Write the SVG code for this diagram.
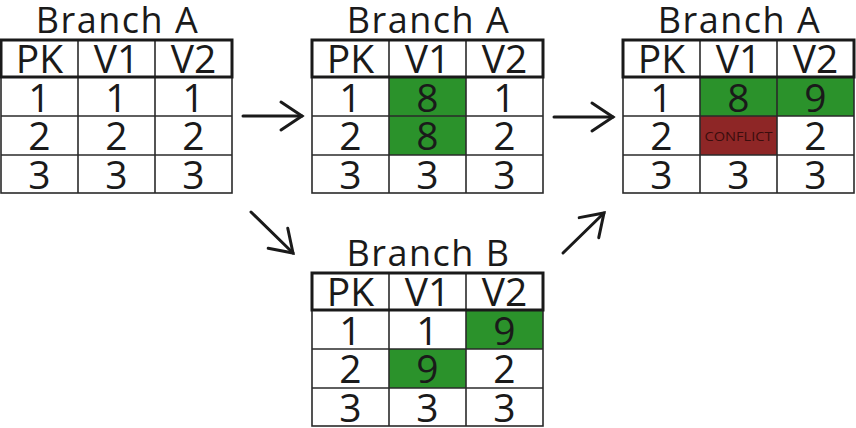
<svg xmlns="http://www.w3.org/2000/svg" xmlns:xlink="http://www.w3.org/1999/xlink" width="856" height="428" viewBox="0 0 856 428">
  <style>
    .title { font-family: "Open Sans", "DejaVu Sans", sans-serif; font-size: 36px; fill: #1a1a1a; text-anchor: middle; letter-spacing: 1.5px; }
    .cell { font-family: "Open Sans", "DejaVu Sans", sans-serif; font-size: 39px; fill: #1a1a1a; text-anchor: middle; }
    .conf { font-family: "Open Sans", "DejaVu Sans", sans-serif; font-size: 13px; fill: #3a0d0d; text-anchor: middle; }
    .green { fill: #2b922b; }
    .red { fill: #8e2626; }
    .thin { fill: none; stroke: #2a2a2a; stroke-width: 1.6; }
    .thick { fill: none; stroke: #1a1a1a; stroke-width: 3; }
    .arrow { fill: none; stroke: #1a1a1a; stroke-width: 3; stroke-linecap: round; }
  </style>
  <defs>
    <g id="grid">
      <rect class="thin" x="0" y="37" width="231" height="116"/>
      <line class="thin" x1="77" y1="0" x2="77" y2="153"/>
      <line class="thin" x1="154" y1="0" x2="154" y2="153"/>
      <line class="thin" x1="0" y1="76" x2="231" y2="76"/>
      <line class="thin" x1="0" y1="115" x2="231" y2="115"/>
      <rect class="thick" x="0" y="0" width="231" height="37"/>
    </g>
    <marker id="head" markerUnits="userSpaceOnUse" viewBox="-25 -17 29 34" markerWidth="29" markerHeight="34" refX="0" refY="0" orient="auto">
      <path d="M-21,-14 L0,0 L-21,14" fill="none" stroke="#1a1a1a" stroke-width="3" stroke-linecap="round" stroke-linejoin="miter"/>
    </marker>
  </defs>

  <g id="table-a1" transform="translate(1,40)">
    <text class="title" x="116.5" y="-7">Branch A</text>
    <use xlink:href="#grid"/>
    <text class="cell" x="38.5" y="33">PK</text>
    <text class="cell" x="115.5" y="33">V1</text>
    <text class="cell" x="192.5" y="33">V2</text>
    <text class="cell" x="38.5" y="72">1</text>
    <text class="cell" x="115.5" y="72">1</text>
    <text class="cell" x="192.5" y="72">1</text>
    <text class="cell" x="38.5" y="110">2</text>
    <text class="cell" x="115.5" y="110">2</text>
    <text class="cell" x="192.5" y="110">2</text>
    <text class="cell" x="38.5" y="149">3</text>
    <text class="cell" x="115.5" y="149">3</text>
    <text class="cell" x="192.5" y="149">3</text>
  </g>

  <g id="table-a2" transform="translate(312,40)">
    <text class="title" x="116.5" y="-7">Branch A</text>
    <rect class="green" x="77" y="37" width="77" height="78"/>
    <use xlink:href="#grid"/>
    <text class="cell" x="38.5" y="33">PK</text>
    <text class="cell" x="115.5" y="33">V1</text>
    <text class="cell" x="192.5" y="33">V2</text>
    <text class="cell" x="38.5" y="72">1</text>
    <text class="cell" x="115.5" y="72">8</text>
    <text class="cell" x="192.5" y="72">1</text>
    <text class="cell" x="38.5" y="110">2</text>
    <text class="cell" x="115.5" y="110">8</text>
    <text class="cell" x="192.5" y="110">2</text>
    <text class="cell" x="38.5" y="149">3</text>
    <text class="cell" x="115.5" y="149">3</text>
    <text class="cell" x="192.5" y="149">3</text>
  </g>

  <g id="table-a3" transform="translate(623,40)">
    <text class="title" x="116.5" y="-7">Branch A</text>
    <rect class="green" x="77" y="37" width="154" height="39"/>
    <rect class="red" x="77" y="76" width="77" height="39"/>
    <use xlink:href="#grid"/>
    <text class="cell" x="38.5" y="33">PK</text>
    <text class="cell" x="115.5" y="33">V1</text>
    <text class="cell" x="192.5" y="33">V2</text>
    <text class="cell" x="38.5" y="72">1</text>
    <text class="cell" x="115.5" y="72">8</text>
    <text class="cell" x="192.5" y="72">9</text>
    <text class="cell" x="38.5" y="110">2</text>
    <text class="conf" x="115.5" y="101" textLength="68" lengthAdjust="spacingAndGlyphs">CONFLICT</text>
    <text class="cell" x="192.5" y="110">2</text>
    <text class="cell" x="38.5" y="149">3</text>
    <text class="cell" x="115.5" y="149">3</text>
    <text class="cell" x="192.5" y="149">3</text>
  </g>

  <g id="table-b" transform="translate(312,273)">
    <text class="title" x="116.5" y="-7">Branch B</text>
    <rect class="green" x="154" y="37" width="77" height="39"/>
    <rect class="green" x="77" y="76" width="77" height="39"/>
    <use xlink:href="#grid"/>
    <text class="cell" x="38.5" y="33">PK</text>
    <text class="cell" x="115.5" y="33">V1</text>
    <text class="cell" x="192.5" y="33">V2</text>
    <text class="cell" x="38.5" y="72">1</text>
    <text class="cell" x="115.5" y="72">1</text>
    <text class="cell" x="192.5" y="72">9</text>
    <text class="cell" x="38.5" y="110">2</text>
    <text class="cell" x="115.5" y="110">9</text>
    <text class="cell" x="192.5" y="110">2</text>
    <text class="cell" x="38.5" y="149">3</text>
    <text class="cell" x="115.5" y="149">3</text>
    <text class="cell" x="192.5" y="149">3</text>
  </g>

  <g id="connectors">
    <line class="arrow" x1="243" y1="116" x2="302" y2="116" marker-end="url(#head)"/>
    <line class="arrow" x1="251" y1="212" x2="293" y2="253" marker-end="url(#head)"/>
    <line class="arrow" x1="554" y1="117" x2="613" y2="117" marker-end="url(#head)"/>
    <line class="arrow" x1="563" y1="253" x2="604" y2="213" marker-end="url(#head)"/>
  </g>
</svg>
